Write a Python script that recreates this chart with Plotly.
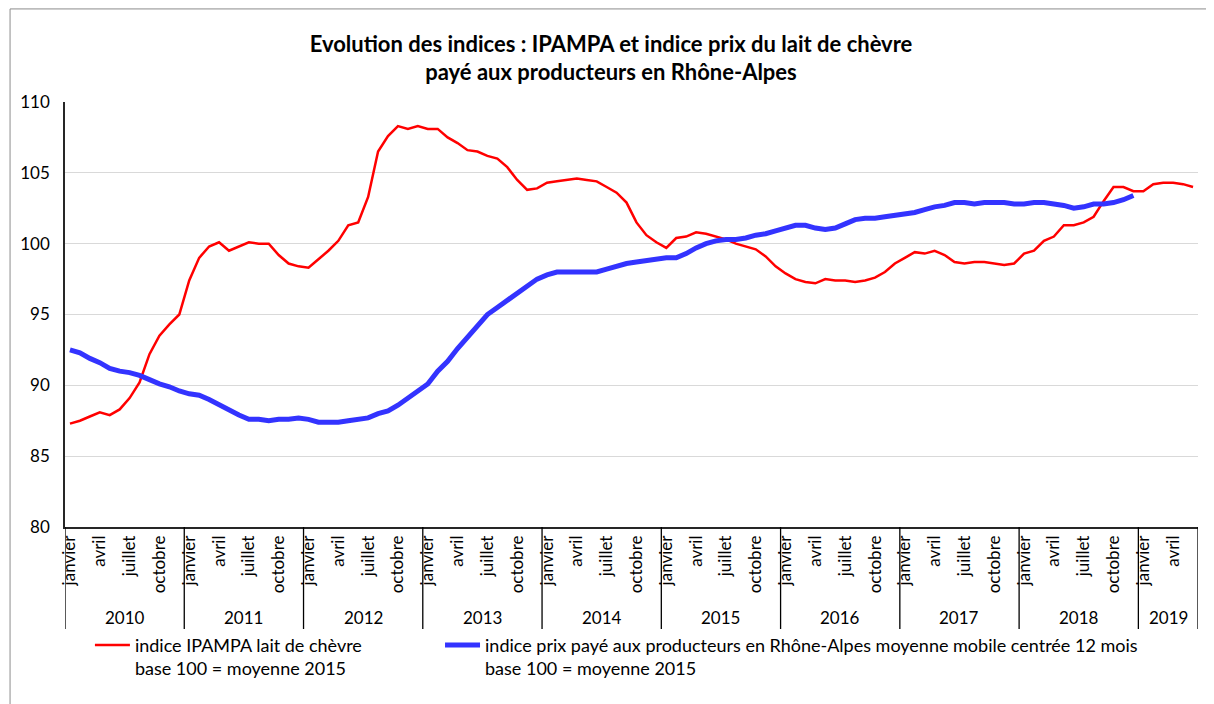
import plotly.graph_objects as go

# Month axis: janvier 2010 -> juin 2019 (114 months)
years = [2010, 2011, 2012, 2013, 2014, 2015, 2016, 2017, 2018, 2019]
months_per_year = [12, 12, 12, 12, 12, 12, 12, 12, 12, 6]
month_names = ['janvier', 'février', 'mars', 'avril', 'mai', 'juin', 'juillet',
               'août', 'septembre', 'octobre', 'novembre', 'décembre']
shown_months = ['janvier', 'avril', 'juillet', 'octobre']

# indice IPAMPA lait de chèvre, base 100 = moyenne 2015
ipampa = [
    87.3, 87.5, 87.8, 88.1, 87.9, 88.3, 89.1, 90.2, 92.2, 93.5, 94.3, 95.0,
    97.4, 99.0, 99.8, 100.1, 99.5, 99.8, 100.1, 100.0, 100.0, 99.2, 98.6, 98.4,
    98.3, 98.9, 99.5, 100.2, 101.3, 101.5, 103.3, 106.5, 107.6, 108.3, 108.1, 108.3,
    108.1, 108.1, 107.5, 107.1, 106.6, 106.5, 106.2, 106.0, 105.4, 104.5, 103.8, 103.9,
    104.3, 104.4, 104.5, 104.6, 104.5, 104.4, 104.0, 103.6, 102.9, 101.5, 100.6, 100.1,
    99.7, 100.4, 100.5, 100.8, 100.7, 100.5, 100.3, 100.0, 99.8, 99.6, 99.1, 98.4,
    97.9, 97.5, 97.3, 97.2, 97.5, 97.4, 97.4, 97.3, 97.4, 97.6, 98.0, 98.6,
    99.0, 99.4, 99.3, 99.5, 99.2, 98.7, 98.6, 98.7, 98.7, 98.6, 98.5, 98.6,
    99.3, 99.5, 100.2, 100.5, 101.3, 101.3, 101.5, 101.9, 103.0, 104.0, 104.0, 103.7,
    103.7, 104.2, 104.3, 104.3, 104.2, 104.0,
]

# indice prix payé aux producteurs en Rhône-Alpes, moyenne mobile centrée 12 mois
prix = [
    92.5, 92.3, 91.9, 91.6, 91.2, 91.0, 90.9, 90.7, 90.4, 90.1, 89.9, 89.6,
    89.4, 89.3, 89.0, 88.6, 88.3, 87.9, 87.6, 87.6, 87.5, 87.6, 87.6, 87.7,
    87.6, 87.4, 87.4, 87.4, 87.5, 87.6, 87.7, 88.0, 88.2, 88.6, 89.1, 89.5,
    90.1, 91.0, 91.7, 92.6, 93.4, 94.3, 95.0, 95.5, 96.0, 96.6, 97.1, 97.5,
    97.8, 98.0, 98.0, 98.0, 98.0, 98.0, 98.2, 98.4, 98.6, 98.7, 98.8, 98.9,
    99.0, 99.0, 99.3, 99.7, 100.0, 100.2, 100.3, 100.3, 100.4, 100.6, 100.7, 100.9,
    101.1, 101.3, 101.3, 101.1, 101.0, 101.1, 101.4, 101.7, 101.8, 101.8, 101.9, 102.0,
    102.1, 102.2, 102.4, 102.6, 102.7, 102.9, 102.9, 102.8, 102.9, 102.9, 102.9, 102.8,
    102.8, 102.9, 102.9, 102.8, 102.7, 102.5, 102.6, 102.8, 102.8, 102.9, 103.1, 103.4,
]

# category positions
x_all = list(range(sum(months_per_year)))
month_of = [month_names[m] for n in months_per_year for m in range(n)]

fig = go.Figure()

fig.add_trace(go.Scatter(
    x=x_all, y=ipampa, mode='lines',
    name='indice IPAMPA lait de chèvre<br>base 100 = moyenne 2015',
    line=dict(color='#ff0000', width=2.5),
    legend='legend'
))
fig.add_trace(go.Scatter(
    x=x_all[:len(prix)], y=prix, mode='lines',
    name='indice prix payé aux producteurs en Rhône-Alpes moyenne mobile centrée 12 mois<br>base 100 = moyenne 2015',
    line=dict(color='#3333ff', width=5),
    legend='legend2'
))

# month tick labels (only some months are shown, like the source)
tickvals = [i for i, m in enumerate(month_of) if m in shown_months]
ticktext = [month_of[i] for i in tickvals]

# year separators and labels below the month labels
shapes = []
annotations = []
start = 0
bounds = [-0.5]
for yr, n in zip(years, months_per_year):
    annotations.append(dict(
        x=start + (n - 1) / 2, y=-0.212, xref='x', yref='paper',
        text=str(yr), showarrow=False, yanchor='middle',
        font=dict(size=17, color='#000000')
    ))
    start += n
    bounds.append(start - 0.5)
for b in bounds:
    shapes.append(dict(
        type='line', xref='x', yref='paper', x0=b, x1=b, y0=0, y1=-0.24,
        line=dict(color='#000000', width=1.3)
    ))

# chart area border (only left and top edges fall inside the picture)
shapes.append(dict(
    type='rect', xref='paper', yref='paper', x0=-0.0485, x1=1.03, y0=-0.5, y1=1.219,
    line=dict(color='#8c8c8c', width=1), layer='below'
))

legend_style = dict(
    orientation='h', y=-0.235, xanchor='left', yanchor='top',
    font=dict(size=18, color='#000000'), itemwidth=35,
    valign='top', bgcolor='rgba(0,0,0,0)'
)

fig.update_layout(
    # page body adds an 8px offset, so the figure is 8px smaller than the window
    width=1206, height=696,
    margin=dict(l=57, r=16, t=94, b=177),
    paper_bgcolor='white', plot_bgcolor='white',
    font=dict(family='Lato, Open Sans, sans-serif', color='#000000'),
    title=dict(
        text='<b>Evolution des indices : IPAMPA et indice prix du lait de chèvre<br>payé aux producteurs en Rhône-Alpes</b>',
        x=0.5, xanchor='center', y=0.9375, yanchor='middle',
        font=dict(size=22, color='#000000')
    ),
    xaxis=dict(
        range=[-0.5, len(x_all) - 0.5],
        tickmode='array', tickvals=tickvals, ticktext=ticktext,
        tickangle=-90, tickfont=dict(size=17, color='#000000'),
        showgrid=False, zeroline=False, ticks='',
        showline=True, linecolor='#262626', linewidth=1.5
    ),
    yaxis=dict(
        range=[80, 110], dtick=5, tick0=80,
        tickfont=dict(size=17, color='#000000'),
        showgrid=True, gridcolor='#d9d9d9', gridwidth=1.3,
        zeroline=False, ticks='', ticklabelstandoff=10,
        showline=True, linecolor='#262626', linewidth=1.5
    ),
    legend=dict(x=0.022, **legend_style),
    legend2=dict(x=0.331, **legend_style),
    shapes=shapes,
    annotations=annotations,
    showlegend=True
)

fig.write_html('out.html')
